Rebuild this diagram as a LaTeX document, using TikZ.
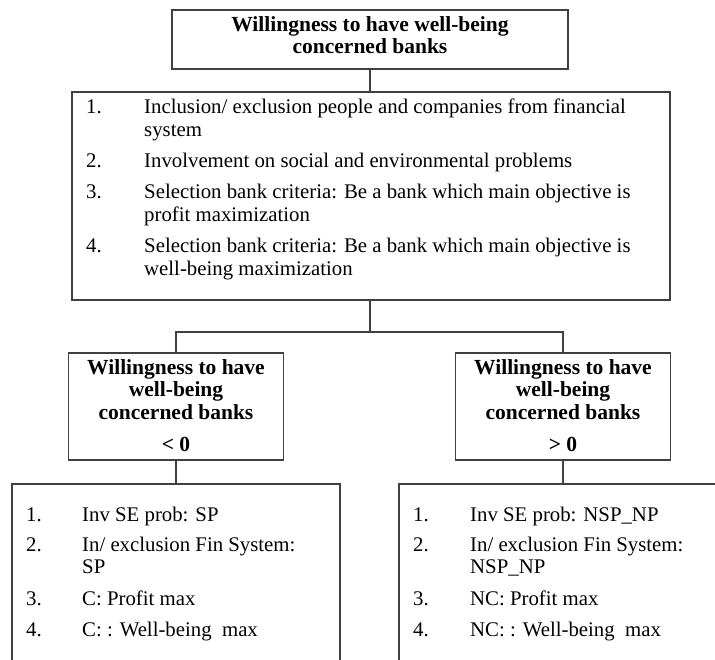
\documentclass[tikz,border=0pt]{standalone}
\usepackage{fontspec}
\setmainfont{Liberation Serif}
\definecolor{linec}{RGB}{64,64,64}
\newcommand\myBody{\fontsize{20.8}{23}\selectfont}
\newcommand\myHead{\fontsize{21.5}{23}\selectfont\bfseries}
\tikzset{
  box/.style={draw=linec, line width=1.5pt, rectangle, inner sep=0pt},
  conn/.style={draw=linec, line width=1.5pt},
  head/.style={font=\myHead, anchor=base, inner sep=0pt},
  itm/.style={font=\myBody, anchor=base west, inner sep=0pt},
}
\begin{document}
\begin{tikzpicture}[x=1pt,y=-1pt]
\useasboundingbox (0,0) rectangle (715,659);
\clip (0,0) rectangle (715,659);
\fill[white] (0,0) rectangle (715,659);
% boxes
\node[box, minimum width=396, minimum height=59] (top) at (370,39.5) {};
\node[box, minimum width=598, minimum height=208] (crit) at (371,196) {};
\node[box, minimum width=215, minimum height=107] (neg) at (176,406.5) {};
\node[box, minimum width=215, minimum height=107] (pos) at (563,406.5) {};
\node[box, minimum width=328, minimum height=236] (negl) at (176,602) {};
\node[box, minimum width=330, minimum height=236] (posl) at (564,602) {};
% connectors
\coordinate (split) at (370,332);
\draw[conn] (top.south) -- (top.south |- crit.north);
\draw[conn] (top.south |- crit.south) -- (split);
\draw[conn] (neg.north) |- (split) -| (pos.north);
\draw[conn] (neg.south) -- (neg.south |- negl.north);
\draw[conn] (pos.south) -- (pos.south |- posl.north);
% top text
\node[head] (tA) at (370,31) {Willingness to have well-being};
\node[head] (tB) at (370,53) {concerned banks};
% criteria list
\node[itm] (c1n) at (86,113) {1.};
\node[itm] (c1a) at (144,113) {Inclusion/ exclusion people and companies from financial};
\node[itm] (c1b) at (144,136) {system};
\node[itm] (c2n) at (86,167) {2.};
\node[itm] (c2a) at (144,167) {Involvement on social and environmental problems};
\node[itm] (c3n) at (86,198) {3.};
\node[itm] (c3a) at (144,198) {Selection bank criteria: Be a bank which main objective is};
\node[itm] (c3b) at (144,221) {profit maximization};
\node[itm] (c4n) at (86,252) {4.};
\node[itm] (c4a) at (144,252) {Selection bank criteria: Be a bank which main objective is};
\node[itm] (c4b) at (144,275) {well-being maximization};
% middle boxes text
\node[head] (nA) at (176,374) {Willingness to have};
\node[head] (nB) at (176,396) {well-being};
\node[head] (nC) at (176,419) {concerned banks};
\node[head] (nD) at (176,451) {< 0};
\node[head] (pA) at (563,374) {Willingness to have};
\node[head] (pB) at (563,396) {well-being};
\node[head] (pC) at (563,419) {concerned banks};
\node[head] (pD) at (563,451) {> 0};
% bottom left list
\node[itm] (l1n) at (26,521) {1.};
\node[itm] (l1a) at (82,521) {Inv SE prob: SP};
\node[itm] (l2n) at (26,551) {2.};
\node[itm] (l2a) at (82,551) {In/ exclusion Fin System:};
\node[itm] (l2b) at (82,573) {SP};
\node[itm] (l3n) at (26,605) {3.};
\node[itm] (l3a) at (82,605) {C: Profit max};
\node[itm] (l4n) at (26,636) {4.};
\node[itm] (l4a) at (82,636) {C: : Well-being\ \ max};
% bottom right list
\node[itm] (r1n) at (413,521) {1.};
\node[itm] (r1a) at (470,521) {Inv SE prob: NSP\_NP};
\node[itm] (r2n) at (413,551) {2.};
\node[itm] (r2a) at (470,551) {In/ exclusion Fin System:};
\node[itm] (r2b) at (470,573) {NSP\_NP};
\node[itm] (r3n) at (413,605) {3.};
\node[itm] (r3a) at (470,605) {NC: Profit max};
\node[itm] (r4n) at (413,636) {4.};
\node[itm] (r4a) at (470,636) {NC: : Well-being\ \ max};
\end{tikzpicture}
\end{document}
